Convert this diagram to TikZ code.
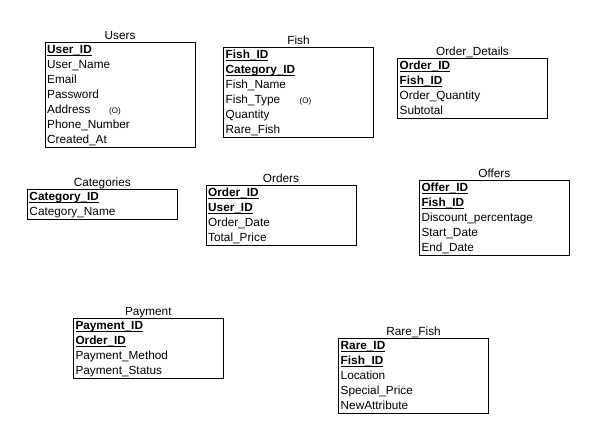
\documentclass[tikz,border=0pt]{standalone}
\usepackage{fontspec}
\setmainfont{Liberation Sans}
\usetikzlibrary{calc}
\newcommand\keyfield[1]{\setbox0\hbox{\bfseries #1}\rlap{\rule[-2.2bp]{\wd0}{0.9bp}}\box0}
\newcommand\mkentity[6]{%
  \node[entbox, minimum height=#5*15bp, anchor=north west] (#1) at (#3,#4) {};
  \node[enttitle] (#1-title) at ([yshift=2.5bp]#1.north) {#2};
  \foreach \r [count=\i] in {#6}
    \node[rowtext] (#1-r\i) at ($(#1.north west)+(2,15*\i-3.6)$) {\r};
}
\begin{document}
\begin{tikzpicture}[x=1bp, y=-1bp,
  entbox/.style={draw=black, line width=0.9bp, minimum width=150bp, inner sep=0pt, outer sep=0pt},
  enttitle/.style={anchor=base, inner sep=0pt, font=\fontsize{11.8bp}{13bp}\selectfont},
  rowtext/.style={anchor=base west, inner sep=0pt, font=\fontsize{11.8bp}{13bp}\selectfont},
  opttext/.style={anchor=base west, inner sep=0pt, font=\fontsize{8bp}{9bp}\selectfont}]
\fill[white] (0,0) rectangle (595,439);
\useasboundingbox (0,0) rectangle (595,439);

\mkentity{users}{Users}{45}{42.5}{7}{\keyfield{User\_ID},User\_Name,Email,Password,Address,Phone\_Number,Created\_At}
\node[opttext] (users-opt) at ($(users.north west)+(64,15*5-3.6)$) {(O)};

\mkentity{fish}{Fish}{223.5}{47}{6}{\keyfield{Fish\_ID},\keyfield{Category\_ID},Fish\_Name,Fish\_Type,Quantity,Rare\_Fish}
\node[opttext] (fish-opt) at ($(fish.north west)+(76,15*4-3.6)$) {(O)};

\mkentity{orderdetails}{Order\_Details}{397.5}{58.3}{4}{\keyfield{Order\_ID},\keyfield{Fish\_ID},Order\_Quantity,Subtotal}

\mkentity{categories}{Categories}{27.3}{189.3}{2}{\keyfield{Category\_ID},Category\_Name}

\mkentity{orders}{Orders}{206}{185}{4}{\keyfield{Order\_ID},\keyfield{User\_ID},Order\_Date,Total\_Price}

\mkentity{offers}{Offers}{419.3}{180.3}{5}{\keyfield{Offer\_ID},\keyfield{Fish\_ID},Discount\_percentage,Start\_Date,End\_Date}

\mkentity{payment}{Payment}{73.3}{318.3}{4}{\keyfield{Payment\_ID},\keyfield{Order\_ID},Payment\_Method,Payment\_Status}

\mkentity{rarefish}{Rare\_Fish}{338.5}{338}{5}{\keyfield{Rare\_ID},\keyfield{Fish\_ID},Location,Special\_Price,NewAttribute}
\end{tikzpicture}
\end{document}
